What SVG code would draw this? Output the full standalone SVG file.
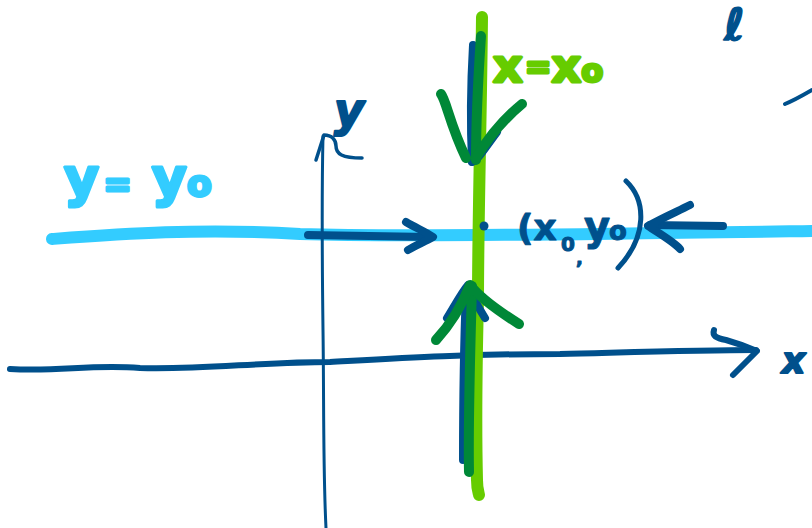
<svg xmlns="http://www.w3.org/2000/svg" width="812" height="528" viewBox="0 0 812 528">
  <style>
    .stroke { fill: none; stroke-linecap: round; stroke-linejoin: round; }
    .navy { stroke: #00508C; }
    .sky { stroke: #33CCFF; }
    .lime { stroke: #66CC00; }
    .forest { stroke: #008837; }
    .hand { font-family: "DejaVu Sans", "Liberation Sans", sans-serif; font-weight: bold; stroke-linejoin: round; }
    .ink-navy { fill: #00508C; stroke: #00508C; }
  </style>
  <rect width="812" height="528" fill="#ffffff"/>

  <!-- horizontal line y = y0 -->
  <g id="line-y0">
    <path class="stroke sky" stroke-width="12" d="M52 239 C120 234 200 228 300 234 C400 237 600 234 812 231"/>
  </g>

  <!-- axes -->
  <g id="axes">
    <!-- x axis -->
    <path class="stroke navy" stroke-width="6" d="M10 369 C60 372 90 364 140 368 C200 370 260 362 330 362 C400 358 460 354 560 354 C640 352 700 350 756 350"/>
    <path class="stroke navy" stroke-width="6" d="M714 330 C712 336 716 338 726 340 C740 344 750 348 757 351 L733 375"/>
    <!-- y axis -->
    <path class="stroke navy" stroke-width="3" d="M326 528 C323 470 324 400 323 330 C322 250 322 180 323 136"/>
    <path class="stroke navy" stroke-width="3.5" d="M316 160 L324 135 C332 135 336 140 336 146 C336 154 342 158 362 158"/>
  </g>

  <!-- vertical line x = x0 -->
  <g id="line-x0">
    <path class="stroke lime" stroke-width="12" d="M482 17 C481 120 478 220 478 300 C476 380 476 440 477 480 C477 490 479 494 479 495"/>
  </g>

  <!-- trajectory arrows -->
  <g id="connectors">
    <!-- along y = y0, from the left -->
    <path class="stroke navy" stroke-width="8" d="M308 235 L430 237"/>
    <path class="stroke navy" stroke-width="8" d="M406 222 C416 228 426 232 433 237 C424 242 414 246 408 250"/>
    <!-- along y = y0, from the right -->
    <path class="stroke navy" stroke-width="8" d="M723 226 L650 225"/>
    <path class="stroke navy" stroke-width="8" d="M690 205 C676 212 662 218 648 226 C660 234 674 242 680 249"/>

    <!-- along x = x0, from above -->
    <path class="stroke navy" stroke-width="8" d="M473 45 C471 80 470 120 472 162"/>
    <path class="stroke navy" stroke-width="8" d="M472 162 C478 160 482 152 497 132"/>
    <path class="stroke forest" stroke-width="10" d="M481 36 C478 80 476 120 476 160"/>
    <path class="stroke forest" stroke-width="10" d="M441 94 C446 100 450 125 466 158 M476 158 C488 138 505 118 522 104"/>

    <!-- along x = x0, from below -->
    <path class="stroke navy" stroke-width="8" d="M463 460 C463 400 464 340 466 290"/>
    <path class="stroke navy" stroke-width="8" d="M447 318 C455 305 462 292 468 285 M470 290 C474 300 480 310 485 318"/>
    <path class="stroke forest" stroke-width="10" d="M469 472 C468 420 470 360 472 286"/>
    <path class="stroke forest" stroke-width="10" d="M436 340 C450 325 462 305 470 285 C480 298 500 312 519 324"/>
  </g>

  <!-- fixed point (x0, y0) -->
  <g id="fixed-point">
    <circle cx="484" cy="226" r="4.5" fill="#00508C"/>
    <text class="hand ink-navy" x="517" y="240" font-size="36" stroke-width="1">(x</text>
    <text class="hand ink-navy" x="561" y="251" font-size="20" stroke-width="1">0</text>
    <text class="hand ink-navy" x="576" y="264" font-size="18" stroke-width="1">,</text>
    <text class="hand ink-navy" x="584" y="240" font-size="40" stroke-width="1">y</text>
    <text class="hand ink-navy" x="609" y="240" font-size="26" stroke-width="1">o</text>
    <path class="stroke navy" stroke-width="5" d="M626 181 C646 200 648 236 618 268"/>
  </g>

  <!-- labels -->
  <g id="labels">
    <text class="hand" x="64" y="196" font-size="54" fill="#33CCFF" stroke="#33CCFF" stroke-width="3">y<tspan dx="4" font-size="34">=</tspan><tspan dx="20">y</tspan><tspan font-size="36">o</tspan></text>
    <text class="hand" x="493" y="82" font-size="46" fill="#66CC00" stroke="#66CC00" stroke-width="3">x<tspan font-size="32" dx="2" dy="-4">=</tspan><tspan dy="4">x</tspan><tspan font-size="32">o</tspan></text>
    <text class="hand ink-navy" x="334" y="126" font-size="46" font-style="italic" stroke-width="2">y</text>
    <text class="hand ink-navy" x="782" y="373" font-size="36" font-style="italic" stroke-width="2">x</text>
    <text class="hand ink-navy" x="724" y="40" font-size="44" font-style="italic" stroke-width="1.5">ℓ</text>
    <path class="stroke navy" stroke-width="4" d="M785 104 C790 102 800 97 812 90"/>
  </g>
</svg>
